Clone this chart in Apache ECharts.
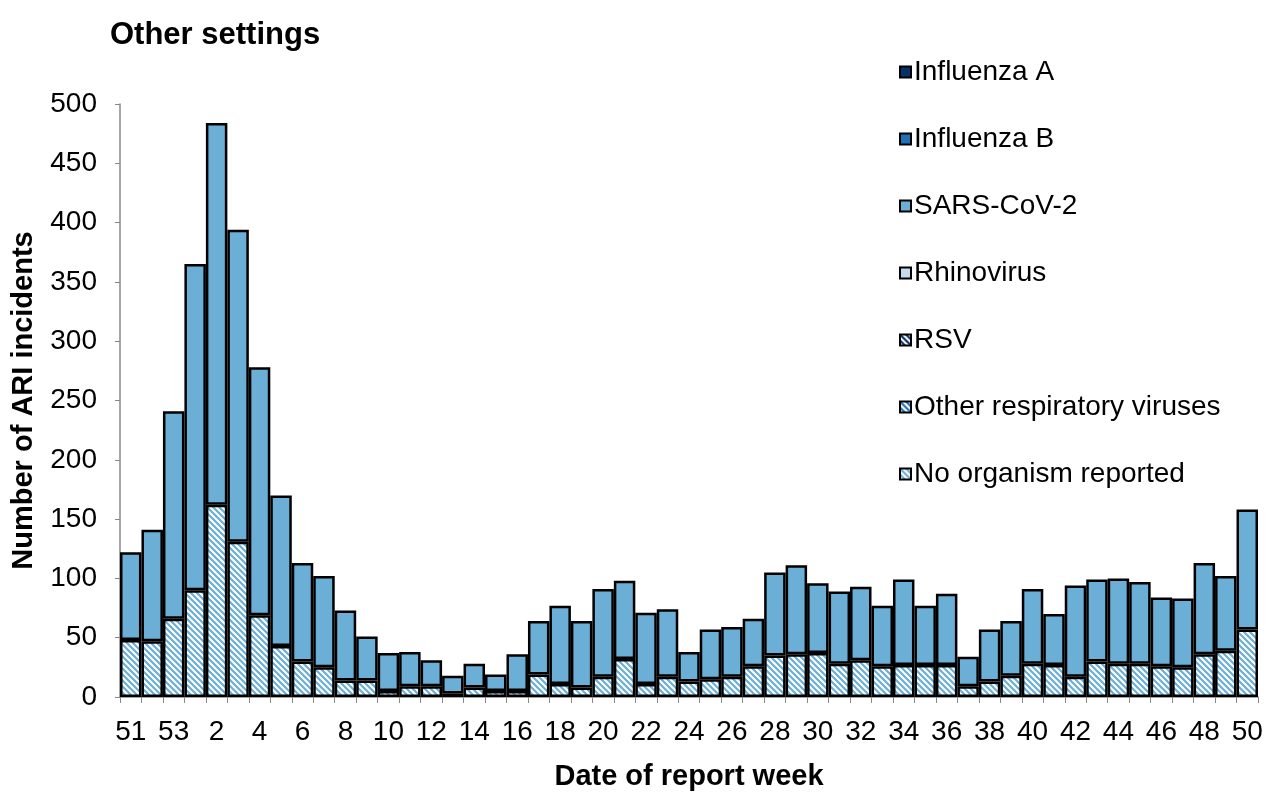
<!DOCTYPE html>
<html>
<head>
<meta charset="utf-8">
<script src="https://cdn.jsdelivr.net/npm/echarts@6/dist/echarts.min.js"></script>
<style>
  html, body { margin: 0; padding: 0; background: #fff; }
  #main { width: 1266px; height: 792px; }
</style>
</head>
<body>
<div id="main"></div>
<script>
/**
 * ARI incidents by report week, other settings (stacked bars)
 */

// report weeks, 51 of the previous year through week 50
var weeks = ['51', '52', '53', '1', '2', '3', '4', '5', '6', '7', '8', '9', '10',
	'11', '12', '13', '14', '15', '16', '17', '18', '19', '20', '21', '22', '23',
	'24', '25', '26', '27', '28', '29', '30', '31', '32', '33', '34', '35', '36',
	'37', '38', '39', '40', '41', '42', '43', '44', '45', '46', '47', '48', '49', '50'];

var noOrganism = [48, 47, 66, 90, 162, 131, 69, 43, 30, 25, 14, 14, 5,
	9, 9, 3, 8, 5, 5, 19, 11, 8, 17, 32, 11, 17,
	13, 15, 17, 26, 35, 36, 37, 28, 31, 26, 27, 27, 27,
	9, 13, 18, 28, 27, 17, 30, 28, 28, 26, 25, 36, 39, 57];

var sarsCov2 = [74, 94, 175, 275, 322, 263, 209, 127, 83, 77, 59, 37, 32,
	29, 22, 15, 20, 14, 31, 45, 66, 56, 74, 66, 60, 57,
	25, 42, 42, 40, 70, 75, 59, 61, 62, 51, 72, 50, 60,
	25, 44, 46, 63, 43, 77, 69, 72, 69, 58, 58, 77, 63, 101];

// nothing reported for these in this setting
var otherResp = [];
var rsv = [];
var rhinovirus = [];
var influenzaB = [];
var influenzaA = [];

var legendOrder = ['Influenza A', 'Influenza B', 'SARS-CoV-2', 'Rhinovirus', 'RSV',
	'Other respiratory viruses', 'No organism reported'];

// diagonal hatch pattern on white
function hatch(color) {
	var c = document.createElement('canvas');
	c.width = 6;
	c.height = 6;
	var ctx = c.getContext('2d');
	ctx.fillStyle = '#fff';
	ctx.fillRect(0, 0, 6, 6);
	ctx.strokeStyle = color;
	ctx.lineWidth = 2.2;
	ctx.beginPath();
	ctx.moveTo(-3, -3); ctx.lineTo(9, 9);
	ctx.moveTo(-3, 3); ctx.lineTo(3, 9);
	ctx.moveTo(3, -3); ctx.lineTo(9, 3);
	ctx.stroke();
	return { image: c, repeat: 'repeat' };
}

function barSeries(name, data, color) {
	return {
		name: name,
		type: 'bar',
		stack: 'all',
		barCategoryGap: 0,
		data: data,
		itemStyle: {
			color: color,
			borderColor: '#000',
			borderWidth: 2.5
		}
	};
}

var FONT = 'Liberation Sans, Arial, sans-serif';

var myChart = echarts.init(document.getElementById('main'));
var option = {
	animation: false,
	backgroundColor: '#fff',
	title: {
		text: 'Other settings',
		left: 105,
		top: 15,
		textStyle: { fontFamily: FONT, fontSize: 31, fontWeight: 'bold', color: '#000' }
	},
	legend: {
		orient: 'vertical',
		left: 894,
		top: 53,
		itemWidth: 11,
		itemHeight: 11,
		itemGap: 39,
		icon: 'rect',
		data: legendOrder,
		itemStyle: { borderColor: '#000', borderWidth: 2 },
		textStyle: { fontFamily: FONT, fontSize: 28, color: '#000', lineHeight: 28, padding: [0, 0, 0, -2] }
	},
	grid: {
		left: 120,
		right: 8,
		top: 104,
		bottom: 95,
		outerBoundsMode: 'none'
	},
	xAxis: {
		type: 'category',
		data: weeks,
		name: 'Date of report week',
		nameLocation: 'middle',
		nameGap: 65,
		nameTextStyle: { fontFamily: FONT, fontSize: 29, fontWeight: 'bold', color: '#000' },
		axisLine: { lineStyle: { color: '#888', width: 1.5 } },
		axisTick: { show: true, interval: 0, length: 6, lineStyle: { color: '#888' } },
		axisLabel: {
			interval: 1,
			margin: 21,
			fontFamily: FONT,
			fontSize: 28,
			color: '#000'
		}
	},
	yAxis: {
		type: 'value',
		min: 0,
		max: 500,
		interval: 50,
		name: 'Number of ARI incidents',
		nameLocation: 'middle',
		nameGap: 82,
		nameTextStyle: { fontFamily: FONT, fontSize: 29, fontWeight: 'bold', color: '#000' },
		axisLine: { show: true, lineStyle: { color: '#888', width: 1.5 } },
		axisTick: { show: true, length: 5, lineStyle: { color: '#888' } },
		splitLine: { show: false },
		axisLabel: {
			margin: 23,
			fontFamily: FONT,
			fontSize: 28,
			color: '#000'
		}
	},
	series: [
		barSeries('No organism reported', noOrganism, hatch('#6baed6')),
		barSeries('Other respiratory viruses', otherResp, hatch('#2171b5')),
		barSeries('RSV', rsv, hatch('#08306b')),
		barSeries('Rhinovirus', rhinovirus, '#c6dbef'),
		barSeries('SARS-CoV-2', sarsCov2, '#6baed6'),
		barSeries('Influenza B', influenzaB, '#2171b5'),
		barSeries('Influenza A', influenzaA, '#08306b')
	]
};
myChart.setOption(option);
</script>
</body>
</html>
